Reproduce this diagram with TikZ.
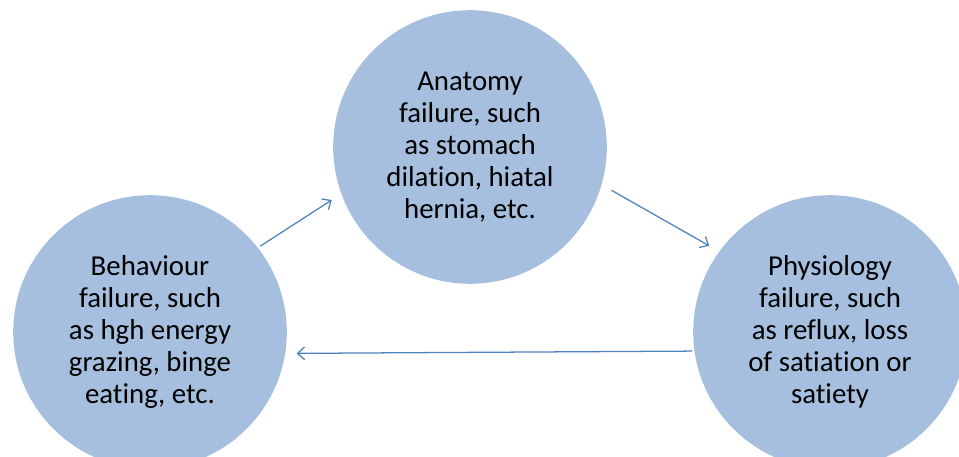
\documentclass[tikz,border=0pt]{standalone}
\usepackage{fontspec}
\setmainfont[Ligatures=NoCommon]{Carlito}
\usepackage{tikz}
\definecolor{circlebg}{RGB}{167, 191, 222}
\definecolor{linkblue}{RGB}{79, 129, 189}
\usetikzlibrary{arrows.meta}

\begin{document}
\begin{tikzpicture}[>={Straight Barb[length=5pt,width=9pt]},
  every node/.style={font=\fontsize{20.5}{22.8}\selectfont},
  failure/.style={circle, fill=circlebg, minimum size=6.84cm, inner sep=0pt, align=center},
  link/.style={->, linkblue, line width=0.9pt}]
  \useasboundingbox (0,0) rectangle (23.975,11.425);
  \clip (0,0) rectangle (23.975,11.425);
  \node[failure] (anat) at (11.75,7.75) {Anatomy\\failure, such\\as stomach\\dilation, hiatal\\hernia, etc.};
  \node[failure] (behav) at (3.75,3.125) {Behaviour\\failure, such\\as hgh energy\\grazing, binge\\eating, etc.};
  \node[failure] (physio) at (20.75,3.125) {Physiology\\failure, such\\as reflux, loss\\of satiation or\\satiety};
  \draw[link, shorten <=2pt, shorten >=8pt] (behav.38) -- (anat.200);
  \draw[link, shorten <=8pt, shorten >=8pt] (anat.344) -- (physio.144);
  \draw[link, shorten <=1.5pt, shorten >=8pt] (physio.188.4) -- (behav.351.6);
\end{tikzpicture}
\end{document}
